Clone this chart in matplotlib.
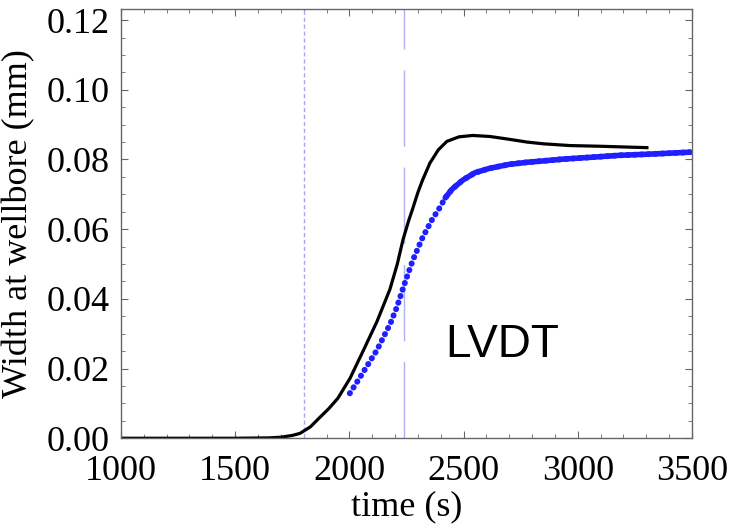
import matplotlib
matplotlib.use("Agg")
import matplotlib.pyplot as plt
from matplotlib.ticker import MultipleLocator, FormatStrFormatter

# model curve (black)
t_model = [1000, 1500, 1650, 1700, 1750, 1784, 1830, 1871, 1910, 1950, 2003, 2060,
           2121, 2178, 2210, 2235, 2260, 2278, 2300, 2320, 2353, 2390, 2427,
           2480, 2540, 2616, 2700, 2778, 2850, 2966, 3100, 3200, 3303]
w_model = [0.0, 0.0, 0.0001, 0.0003, 0.0008, 0.0014, 0.0033, 0.0060, 0.0085, 0.0115,
           0.0172, 0.0250, 0.0335, 0.0428, 0.0500, 0.0570, 0.0625, 0.0660, 0.0705,
           0.0740, 0.0790, 0.0828, 0.0852, 0.0865, 0.0869, 0.0866, 0.0858, 0.0850,
           0.0845, 0.0840, 0.0838, 0.0836, 0.0834]

# LVDT measurement (blue dots)
t_lvdt = [2002, 2040, 2080, 2121, 2147, 2180, 2208, 2240, 2278, 2320, 2360,
          2397, 2420, 2450, 2497, 2550, 2616, 2700, 2778, 2850, 2935, 3050, 3185,
          3300, 3400, 3491]
w_lvdt = [0.0129, 0.0168, 0.0210, 0.0253, 0.0287, 0.0330, 0.0376, 0.0440,
          0.0511, 0.0575, 0.0625, 0.0663, 0.0690, 0.0715, 0.0741, 0.0762, 0.0775,
          0.0786, 0.0792, 0.0796, 0.0801, 0.0806, 0.0812, 0.0815, 0.0818, 0.0821]

vline_short = 1800
vline_long = 2240
dense_from = 2420  # where the LVDT dots overlap into a band

plt.rcParams['font.family'] = ['Liberation Serif', 'DejaVu Serif']

fig = plt.figure(figsize=(7.31, 5.28), dpi=100)
ax = fig.add_axes([0.1655, 0.17, 0.781, 0.813])

ax.axvline(vline_short, color='#a8a8f0', lw=1.0, linestyle=(0, (3, 2)))
ax.axvline(vline_long, color='#b0b0f4', lw=1.0, linestyle=(0, (55, 15)))

ax.plot(t_lvdt, w_lvdt, color='#1f1fff', lw=4.3, linestyle=(0, (0.05, 1.1)),
        dash_capstyle='round')
t_band = [t for t in t_lvdt if t >= dense_from]
w_band = [w for t, w in zip(t_lvdt, w_lvdt) if t >= dense_from]
ax.plot(t_band, w_band, color='#1f1fff', lw=4.0, solid_capstyle='round')
ax.plot(t_model, w_model, color='black', lw=2.3)

ax.text(2418, 0.0232, 'LVDT', fontsize=33, family=['Liberation Sans', 'DejaVu Sans'],
        ha='left', va='baseline')

ax.set_xlim(1000, 3500)
ax.set_ylim(0, 0.1232)
ax.xaxis.set_major_locator(MultipleLocator(500))
ax.xaxis.set_minor_locator(MultipleLocator(100))
ax.yaxis.set_major_locator(MultipleLocator(0.02))
ax.yaxis.set_minor_locator(MultipleLocator(0.005))
ax.yaxis.set_major_formatter(FormatStrFormatter('%.2f'))

ax.tick_params(which='both', direction='in', top=True, right=True,
               color='#666666', labelsize=26)
ax.tick_params(axis='y', pad=8)
ax.tick_params(axis='x', pad=12)
ax.tick_params(which='major', length=5, width=0.8)
ax.tick_params(which='minor', length=3, width=0.6)
for s in ax.spines.values():
    s.set_color('#666666')
    s.set_linewidth(1.0)

ax.set_xlabel('time (s)', fontsize=26, labelpad=2)
ax.set_ylabel('Width at wellbore (mm)', fontsize=26, labelpad=8)

fig.savefig('out.png', dpi=100)
